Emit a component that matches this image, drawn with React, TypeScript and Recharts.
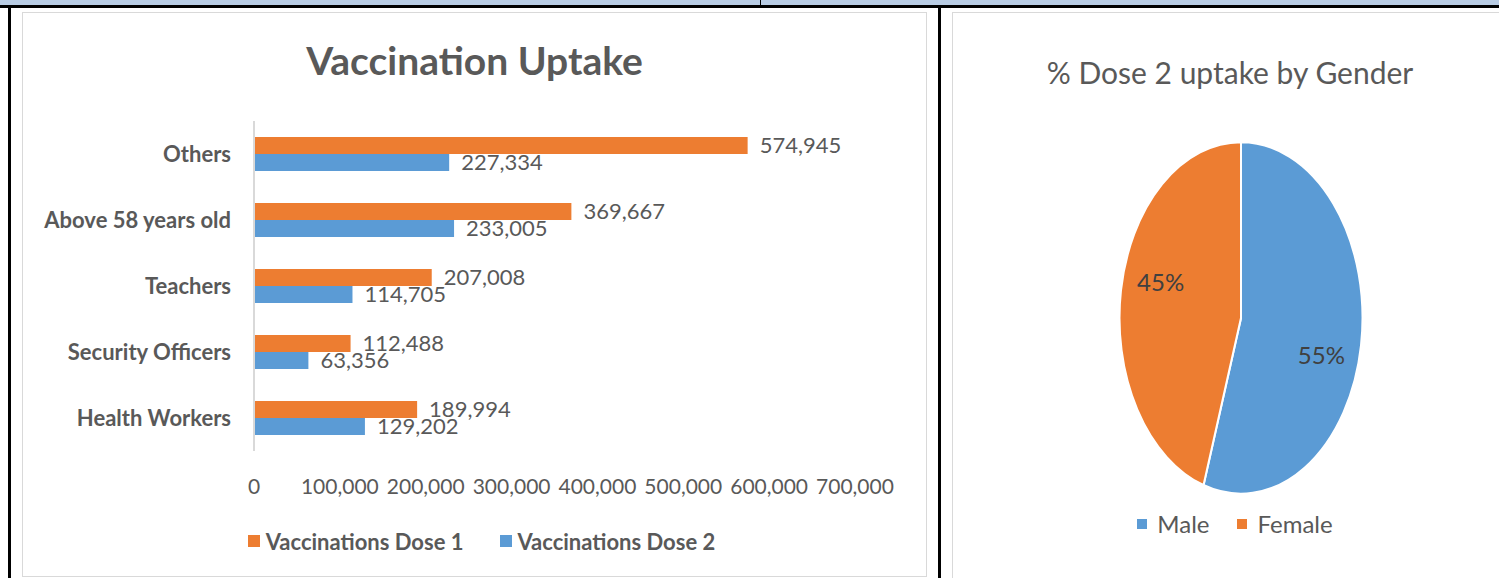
import React from 'react';
import { BarChart, Bar, XAxis, YAxis, LabelList, Legend, PieChart, Pie, Cell } from 'recharts';

const CATEGORIES = ['Others', 'Above 58 years old', 'Teachers', 'Security Officers', 'Health Workers'];
const DOSE_1 = [574945, 369667, 207008, 112488, 189994];
const DOSE_2 = [227334, 233005, 114705, 63356, 129202];
const X_TICKS = [0, 100000, 200000, 300000, 400000, 500000, 600000, 700000];

const GENDERS = ['Male', 'Female'];
const GENDER_SHARE = [55, 45];

const ORANGE = '#ED7D31';
const BLUE = '#5B9BD5';
const GENDER_COLORS = [BLUE, ORANGE];
const GREY = '#595959';
const FONT = 'Lato, "Noto Sans", sans-serif';

// the pie in the source is stretched into an ellipse
const K = 1.45;

const barData = CATEGORIES.map((c, i) => ({ category: c, dose1: DOSE_1[i], dose2: DOSE_2[i] }));
const pieData = GENDERS.map((g, i) => ({ name: g, value: GENDER_SHARE[i] }));

const fmt = (v: any) => Number(v).toLocaleString('en-US');

const BarLegend = ({ payload }: any) => (
  <div
    style={{
      display: 'flex',
      justifyContent: 'center',
      gap: 36,
      height: 30,
      alignItems: 'center',
      paddingLeft: 14,
      fontFamily: FONT,
      fontWeight: 700,
      fontSize: 22,
      color: GREY,
    }}
  >
    {(payload || []).map((p: any) => (
      <span key={p.value} style={{ display: 'flex', alignItems: 'center' }}>
        <span style={{ width: 12, height: 12, background: p.color, marginRight: 6 }} />
        {p.value}
      </span>
    ))}
  </div>
);

const renderPct = (props: any) => {
  const { cx, cy, midAngle, outerRadius, percent } = props;
  const rad = (Math.PI / 180) * midAngle;
  const r = outerRadius * 0.67;
  const x = cx + r * Math.cos(rad);
  const y = cy - 2 * r * Math.sin(rad);
  return (
    <text
      x={x}
      y={y}
      textAnchor="middle"
      dominantBaseline="central"
      fill="#404040"
      fontSize={24}
      fontFamily={FONT}
      transform={`translate(0 ${y}) scale(1 ${1 / K}) translate(0 ${-y})`}
    >
      {`${Math.round(percent * 100)}%`}
    </text>
  );
};

export default function App() {
  return (
    <div style={{ position: 'relative', width: 1499, height: 578, overflow: 'hidden', background: '#fff' }}>
      <style>{`body{margin:0}`}</style>

      {/* table frame */}
      <div style={{ position: 'absolute', left: 0, top: 0, width: 1499, height: 5, background: '#B8CCE4' }} />
      <div style={{ position: 'absolute', left: 760, top: 0, width: 1, height: 5, background: '#000' }} />
      <div style={{ position: 'absolute', left: 0, top: 5, width: 1499, height: 3, background: '#000' }} />
      <div style={{ position: 'absolute', left: 8, top: 5, width: 3, height: 573, background: '#000' }} />
      <div style={{ position: 'absolute', left: 938, top: 5, width: 3, height: 573, background: '#000' }} />

      {/* bar chart */}
      <div
        style={{
          position: 'absolute',
          left: 22,
          top: 12,
          width: 905,
          height: 565,
          boxSizing: 'border-box',
          border: '1px solid #d9d9d9',
        }}
      >
        <div
          style={{
            position: 'absolute',
            left: -1,
            top: 24,
            width: 905,
            textAlign: 'center',
            fontFamily: FONT,
            fontWeight: 700,
            fontSize: 39,
            color: GREY,
          }}
        >
          Vaccination Uptake
        </div>
        <div style={{ position: 'absolute', left: -1, top: -1 }}>
          <BarChart
            width={905}
            height={565}
            data={barData}
            layout="vertical"
            margin={{ top: 109, right: 72, left: 0, bottom: 56 }}
            barCategoryGap={16}
            barGap={0}
          >
            <XAxis
              type="number"
              domain={[0, 700000]}
              ticks={X_TICKS}
              tickFormatter={fmt}
              axisLine={false}
              tickLine={false}
              tickMargin={22}
              height={40}
              tick={{ fontSize: 21, fill: GREY, fontFamily: FONT }}
            />
            <YAxis
              type="category"
              dataKey="category"
              width={232}
              axisLine={{ stroke: '#d9d9d9', strokeWidth: 2 }}
              tickLine={false}
              tickMargin={17}
              tick={{ fontSize: 22, fill: GREY, fontFamily: FONT, fontWeight: 700 }}
            />
            <Legend
              verticalAlign="bottom"
              content={<BarLegend />}
              wrapperStyle={{ bottom: 21, left: 0, width: 905 }}
            />
            <Bar dataKey="dose1" name="Vaccinations Dose 1" fill={ORANGE} isAnimationActive={false}>
              <LabelList dataKey="dose1" position="right" offset={12} formatter={fmt} fill={GREY} fontSize={22} fontFamily={FONT} />
            </Bar>
            <Bar dataKey="dose2" name="Vaccinations Dose 2" fill={BLUE} isAnimationActive={false}>
              <LabelList dataKey="dose2" position="right" offset={12} formatter={fmt} fill={GREY} fontSize={22} fontFamily={FONT} />
            </Bar>
          </BarChart>
        </div>
      </div>

      {/* pie chart */}
      <div
        style={{
          position: 'absolute',
          left: 952,
          top: 12,
          width: 560,
          height: 566,
          boxSizing: 'border-box',
          borderLeft: '1px solid #d9d9d9',
          borderTop: '1px solid #d9d9d9',
        }}
      >
        <div
          style={{
            position: 'absolute',
            left: 0,
            top: 41,
            width: 554,
            textAlign: 'center',
            fontFamily: FONT,
            fontSize: 30,
            color: GREY,
          }}
        >
          % Dose 2 uptake by Gender
        </div>
        <div style={{ position: 'absolute', left: -1, top: -1, transform: `scaleY(${K})`, transformOrigin: '0 0' }}>
          <PieChart width={547} height={390} margin={{ top: 0, right: 0, bottom: 0, left: 0 }}>
            <Pie
              data={pieData}
              dataKey="value"
              nameKey="name"
              cx={289}
              cy={211}
              outerRadius={121.5}
              startAngle={90}
              endAngle={-270}
              stroke="#fff"
              strokeWidth={2}
              label={renderPct}
              labelLine={false}
              isAnimationActive={false}
            >
              {pieData.map((d, i) => (
                <Cell key={d.name} fill={GENDER_COLORS[i]} />
              ))}
            </Pie>
          </PieChart>
        </div>
        <div
          style={{
            position: 'absolute',
            left: 0,
            top: 496,
            width: 564,
            display: 'flex',
            justifyContent: 'center',
            gap: 28,
            fontFamily: FONT,
            fontSize: 24,
            color: GREY,
          }}
        >
          {pieData.map((d, i) => (
            <span key={d.name} style={{ display: 'flex', alignItems: 'center' }}>
              <span style={{ width: 10, height: 10, background: GENDER_COLORS[i], marginRight: 10 }} />
              {d.name}
            </span>
          ))}
        </div>
      </div>
    </div>
  );
}
